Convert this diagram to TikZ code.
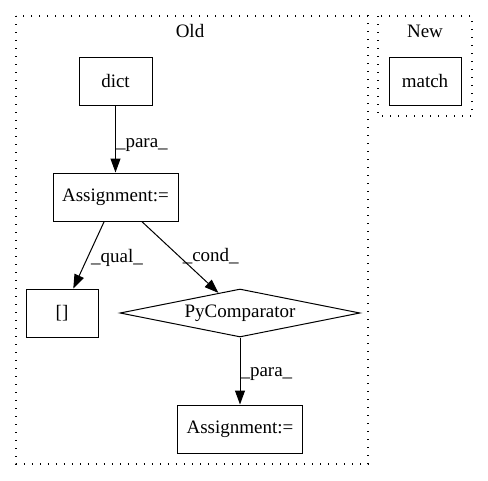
\documentclass[tikz,border=0pt]{standalone}
\usepackage{fontspec}
\setmainfont{Liberation Serif}
\usetikzlibrary{arrows.meta,shapes.geometric}
\begin{document}
\begin{tikzpicture}[x=1pt,y=-1pt,
  every node/.style={font=\fontsize{19}{22}\selectfont},
  box/.style={draw,line width=1pt,rectangle,inner sep=0pt},
  cluster/.style={draw,line width=1.4pt,dash pattern=on 1.4pt off 6.6pt},
  edge/.style={draw,line width=1pt,-{Triangle[length=14pt,width=10pt]}},
  lbl/.style={inner sep=0pt,yshift=-3pt}]
\useasboundingbox (0,0) rectangle (488,480);
\draw[cluster] (16,16) rectangle (368,464);
\draw[cluster] (378,16) rectangle (472,116);
\node (old) at (190,31) {Old};
\node (new) at (425,31) {New};
\node[box,minimum width=73pt,minimum height=48pt] (dict) at (115.5,81) {dict};
\node[box,minimum width=72pt,minimum height=48pt] (match) at (425,81) {match};
\node[box,minimum width=125pt,minimum height=48pt] (a1) at (115.5,197) {Assignment:=};
\node[box,minimum width=72pt,minimum height=48pt] (br) at (62,313) {[]};
\node[draw,line width=1pt,diamond,aspect=5,inner sep=0pt,minimum width=240pt,minimum height=48pt] (pc) at (240,313) {PyComparator};
\node[box,minimum width=125pt,minimum height=48pt] (a2) at (240,429) {Assignment:=};
\draw[edge] (dict) -- node[lbl,right,pos=0.55] {\_para\_} (a1);
\draw[edge] (a1) -- node[lbl,right,pos=0.5,xshift=2pt] {\_qual\_} (br);
\draw[edge] (a1) -- node[lbl,right,pos=0.45,xshift=6pt] {\_cond\_} (pc);
\draw[edge] (pc) -- node[lbl,right,pos=0.5] {\_para\_} (a2);
\end{tikzpicture}
\end{document}
